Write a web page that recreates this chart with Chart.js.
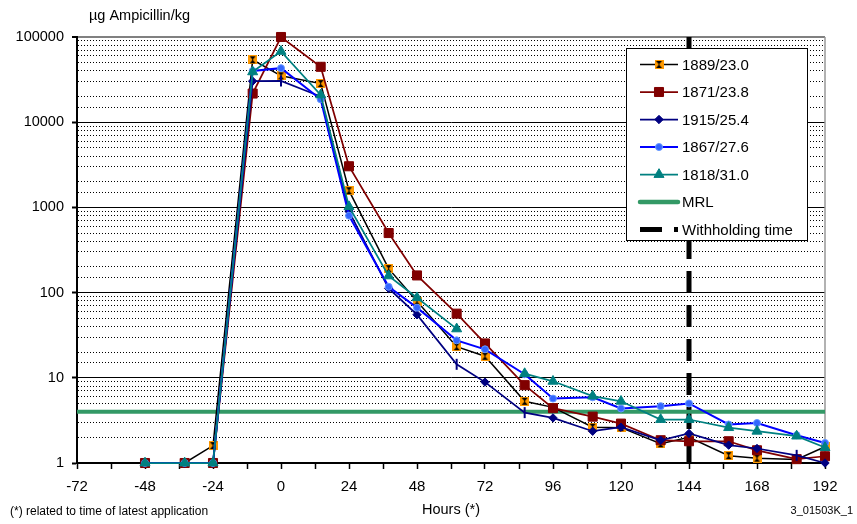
<!DOCTYPE html>
<html>
<head>
<meta charset="utf-8">
<script src="https://cdn.jsdelivr.net/npm/chart.js@4.4.1/dist/chart.umd.min.js"></script>
<style>
    html, body { margin: 0; padding: 0; background: #fff; }
    #wrap { position: relative; width: 857px; height: 524px; }
</style>
</head>
<body>
<div id="wrap"><canvas id="chart" width="857" height="524"></canvas></div>
<script>
// ========================================
// DATA
// ========================================

// sampling times, hours relative to latest application
const hours = [-48, -34, -24, -10, 0, 14, 24, 38, 48, 62, 72, 86, 96, 110, 120, 134, 144, 158, 168, 182, 192];

// µg Ampicillin/kg per animal
const s1889 = [1, 1, 1.6, 54000, 35000, 28400, 1570, 191, 79, 23.2, 17.9, 5.3, 4.5, 2.63, 2.6, 1.68, 2.0, 1.22, 1.14, 1.1, 1.55];
const s1871 = [1, 1, 1, 21700, 100000, 44700, 3040, 500, 159, 56.6, 25.3, 8.2, 4.4, 3.5, 2.9, 1.85, 1.8, 1.8, 1.41, 1.11, 1.2];
const s1915 = [1, 1, 1, 30300, 30500, 20000, 900, 112, 55, 14.4, 8.9, 3.9, 3.38, 2.36, 2.63, 1.85, 2.22, 1.62, 1.48, 1.23, 1];
const s1867 = [1, 1, 1, 40000, 43100, 18600, 800, 117, 66.6, 27.5, 21.6, 11, 5.7, 5.9, 4.36, 4.65, 5.0, 2.83, 2.95, 2.12, 1.72];
const s1818 = [1, 1, 1, 39000, 67800, 20900, 1020, 157, 87, 37.5, null, 11.2, 9.1, 6.1, 5.3, 3.24, 3.24, 2.6, 2.36, 2.07, 1.52];

const seriesLabels = ['1889/23.0', '1871/23.8', '1915/25.4', '1867/27.6', '1818/31.0'];

const mrlValue = 4;
const withholdingHour = 144;

const xMin = -72, xMax = 192, xStep = 12, xLabelStep = 24;
const yMin = 1, yMax = 100000;

// points of 1915 drawn as a short vertical dash instead of a diamond
const navyDashHours = [0, 62, 86, 182];

// ========================================
// HELPERS
// ========================================

function toPoints(values) {
    return hours.map((h, i) => ({ x: h, y: values[i] }));
}

function isDecade(v) {
    const l = Math.log10(v);
    return Math.abs(l - Math.round(l)) < 1e-9;
}

// orange square with black hourglass (Excel style marker)
function makeOrangeMarker() {
    const c = document.createElement('canvas');
    c.width = 9; c.height = 9;
    const g = c.getContext('2d');
    g.fillStyle = '#ff9900';
    g.fillRect(0, 0, 9, 9);
    g.fillStyle = '#000';
    g.beginPath();
    g.moveTo(1.5, 1); g.lineTo(7.5, 1); g.lineTo(4.5, 4.5); g.closePath();
    g.moveTo(1.5, 8); g.lineTo(7.5, 8); g.lineTo(4.5, 4.5); g.closePath();
    g.fill();
    g.fillRect(4, 1, 1, 7);
    return c;
}

const orangeMarker = makeOrangeMarker();

function drawMarker(ctx, style, x, y, r, fill, stroke, bw) {
    if (style instanceof HTMLCanvasElement) {
        ctx.drawImage(style, x - style.width / 2, y - style.height / 2);
        return;
    }
    ctx.beginPath();
    if (style === 'rect') {
        const s = r * Math.SQRT1_2;
        ctx.rect(x - s, y - s, 2 * s, 2 * s);
    } else if (style === 'rectRot') {
        ctx.moveTo(x, y - r); ctx.lineTo(x + r, y); ctx.lineTo(x, y + r); ctx.lineTo(x - r, y); ctx.closePath();
    } else if (style === 'triangle') {
        ctx.moveTo(x, y - r); ctx.lineTo(x + r * 0.866, y + r * 0.5); ctx.lineTo(x - r * 0.866, y + r * 0.5); ctx.closePath();
    } else {
        ctx.arc(x, y, r, 0, Math.PI * 2);
    }
    ctx.fillStyle = fill;
    ctx.fill();
    ctx.lineWidth = bw;
    ctx.strokeStyle = stroke;
    ctx.stroke();
}

// ========================================
// DATASETS
// ========================================

const seriesStyles = [
    { color: '#000000', width: 1.5, marker: orangeMarker, radius: 4.5, fill: '#ff9900', stroke: '#000000', order: 5 },
    { color: '#800000', width: 1.75, marker: 'rect', radius: 6.4, fill: '#800000', stroke: '#800000', order: 4 },
    { color: '#000080', width: 1.75, marker: 'rectRot', radius: 4.2, fill: '#000080', stroke: '#000080', order: 3 },
    { color: '#0000ff', width: 2, marker: 'circle', radius: 3.5, fill: '#3366ff', stroke: '#6699ff', order: 2 },
    { color: '#008080', width: 1.75, marker: 'triangle', radius: 5.8, fill: '#008080', stroke: '#008080', order: 1 }
];

const seriesValues = [s1889, s1871, s1915, s1867, s1818];

const datasets = seriesValues.map((vals, i) => {
    const st = seriesStyles[i];
    const ds = {
        label: seriesLabels[i],
        data: toPoints(vals),
        borderColor: st.color,
        borderWidth: st.width,
        pointStyle: st.marker,
        pointRadius: st.radius,
        pointBackgroundColor: st.fill,
        pointBorderColor: st.stroke,
        pointBorderWidth: 1,
        tension: 0,
        spanGaps: false,
        clip: false,
        order: st.order,
        legendStyle: st
    };
    if (i === 2) {
        ds.pointStyle = hours.map(h => navyDashHours.includes(h) ? 'line' : 'rectRot');
        ds.pointRotation = hours.map(h => navyDashHours.includes(h) ? 90 : 0);
        ds.pointRadius = hours.map(h => navyDashHours.includes(h) ? 5.5 : 4.2);
        ds.pointBorderWidth = hours.map(h => navyDashHours.includes(h) ? 2 : 1);
    }
    return ds;
});

datasets.push({
    label: 'MRL',
    data: [{ x: xMin, y: mrlValue }, { x: xMax, y: mrlValue }],
    borderColor: '#339966',
    borderWidth: 4,
    pointRadius: 0,
    order: 6
});

datasets.push({
    label: 'Withholding time',
    data: [{ x: withholdingHour, y: yMin }, { x: withholdingHour, y: yMax }],
    borderColor: '#000000',
    borderWidth: 5,
    borderDash: [22, 12],
    borderCapStyle: 'butt',
    pointRadius: 0,
    clip: false,
    order: 7
});

// ========================================
// DECORATION PLUGIN (frame, legend, texts)
// ========================================

const decorPlugin = {
    id: 'decor',
    beforeDatasetsDraw(chart) {
        const { ctx, chartArea: a } = chart;
        ctx.save();
        ctx.strokeStyle = '#999999';
        ctx.lineWidth = 1.5;
        ctx.beginPath();
        ctx.moveTo(a.right, a.top);
        ctx.lineTo(a.right, a.bottom);
        ctx.stroke();
        ctx.restore();
    },
    afterDatasetsDraw(chart) {
        const ctx = chart.ctx;
        const box = { x: 626, y: 48, w: 181, h: 192 };
        ctx.save();
        ctx.fillStyle = '#fff';
        ctx.fillRect(box.x, box.y, box.w, box.h);
        ctx.strokeStyle = '#000';
        ctx.lineWidth = 1;
        ctx.strokeRect(box.x + 0.5, box.y + 0.5, box.w, box.h);

        const x0 = 640, x1 = 678, tx = 682;
        const rowY = i => 64.5 + i * 27.5;
        ctx.font = '15px Arial, "Liberation Sans", sans-serif';
        ctx.textAlign = 'left';
        ctx.textBaseline = 'middle';

        chart.data.datasets.forEach((ds, i) => {
            const y = rowY(i);
            ctx.save();
            ctx.beginPath();
            ctx.strokeStyle = ds.borderColor;
            if (ds.label === 'MRL') {
                ctx.lineWidth = 4.5;
                ctx.lineCap = 'round';
            } else if (ds.label === 'Withholding time') {
                ctx.lineWidth = 5;
                ctx.setLineDash(ds.borderDash);
            } else {
                ctx.lineWidth = ds.borderWidth;
            }
            ctx.moveTo(x0, y);
            ctx.lineTo(x1, y);
            ctx.stroke();
            ctx.setLineDash([]);
            const st = ds.legendStyle;
            if (st) {
                drawMarker(ctx, st.marker, (x0 + x1) / 2, y, st.radius, st.fill, st.stroke, 1);
            }
            ctx.restore();
            ctx.fillStyle = '#000';
            ctx.fillText(ds.label, tx, y + 1);
        });
        ctx.restore();
    },
    afterDraw(chart) {
        const ctx = chart.ctx;
        ctx.save();
        ctx.fillStyle = '#000';
        ctx.textBaseline = 'middle';
        ctx.textAlign = 'left';
        ctx.font = '14.5px Arial, "Liberation Sans", sans-serif';
        ctx.fillText('µg Ampicillin/kg', 89, 16);
        ctx.font = '12px Arial, "Liberation Sans", sans-serif';
        ctx.fillText('(*) related to time of latest application', 10, 512);
        ctx.textAlign = 'right';
        ctx.font = '11px Arial, "Liberation Sans", sans-serif';
        ctx.fillText('3_01503K_1', 853, 511);
        ctx.restore();
    }
};

// ========================================
// CHART
// ========================================

Chart.defaults.font.family = 'Arial, "Liberation Sans", sans-serif';
Chart.defaults.color = '#000';

new Chart(document.getElementById('chart'), {
    type: 'line',
    data: { datasets: datasets },
    options: {
        responsive: false,
        devicePixelRatio: 1,
        animation: false,
        layout: { padding: { top: 37, right: 32, bottom: 0, left: 0 } },
        plugins: {
            legend: { display: false },
            tooltip: { enabled: false }
        },
        scales: {
            x: {
                type: 'linear',
                min: xMin,
                max: xMax,
                afterFit: s => { s.height = 61; },
                ticks: {
                    stepSize: xStep,
                    autoSkip: false,
                    maxRotation: 0,
                    padding: 9,
                    font: { size: 15 },
                    callback: v => (v % xLabelStep === 0 ? String(v) : '')
                },
                grid: {
                    drawOnChartArea: false,
                    drawTicks: true,
                    tickLength: 6,
                    tickColor: '#000',
                    tickWidth: 1.5
                },
                border: { display: true, color: '#000', width: 2 },
                title: {
                    display: true,
                    text: 'Hours (*)',
                    font: { size: 14.5 },
                    padding: { top: 0, bottom: 5 }
                }
            },
            y: {
                type: 'logarithmic',
                min: yMin,
                max: yMax,
                afterFit: s => { s.width = 77; },
                ticks: {
                    autoSkip: false,
                    padding: 8,
                    font: { size: 14.5 },
                    callback: v => (isDecade(v) ? String(Math.round(v)) : '')
                },
                grid: {
                    color: c => (c.tick && c.tick.value >= yMax ? '#808080' : '#000'),
                    lineWidth: c => (c.tick && c.tick.value >= yMax ? 2 : 1),
                    drawTicks: true,
                    tickLength: 5,
                    tickWidth: 2,
                    tickColor: c => (c.tick && isDecade(c.tick.value) ? '#000' : 'rgba(0,0,0,0)')
                },
                border: {
                    display: true,
                    color: '#000',
                    width: 2,
                    dash: c => (c.tick && !isDecade(c.tick.value) ? [1, 2] : [])
                }
            }
        }
    },
    plugins: [decorPlugin]
});
</script>
</body>
</html>
